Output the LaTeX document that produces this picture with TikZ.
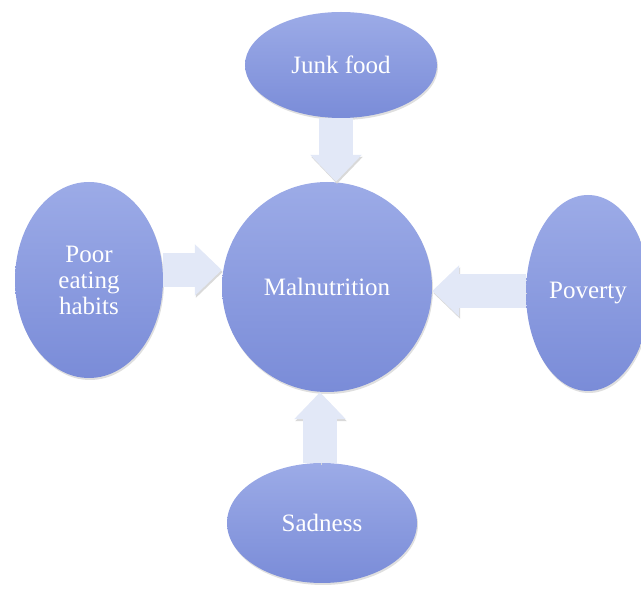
\documentclass[tikz,border=0pt]{standalone}
\usepackage{fontspec}
\setmainfont{Liberation Serif}
\usetikzlibrary{shapes.geometric,arrows.meta,shadows}

\definecolor{blobtop}{RGB}{156,171,231}
\definecolor{blobbot}{RGB}{122,140,216}
\definecolor{arrowfill}{RGB}{226,232,247}

\tikzset{
	blob/.style={ellipse, inner sep=0pt, top color=blobtop, bottom color=blobbot,
		text=white, align=center, font=\fontsize{25}{26}\selectfont,
		drop shadow={opacity=0.25, shadow xshift=1pt, shadow yshift=-2pt}},
	blockarrow/.style={draw=arrowfill, line width=34pt,
		-{Triangle[width=50pt,length=27pt]},
		preaction={draw=black!15, transform canvas={xshift=1pt,yshift=-2pt}}}
}

\begin{document}
\begin{tikzpicture}[x=1pt,y=-1pt]
	\useasboundingbox (0,0) rectangle (641,593);
	\clip (0,0) rectangle (641,593);
	
	\node [blob, minimum width=210pt, minimum height=210pt] (mal) at (327,287) {Malnutrition};
	\node [blob, minimum width=192pt, minimum height=106pt] (junk) at (341,65) {Junk food};
	\node [blob, minimum width=148pt, minimum height=196pt] (poor) at (89,280) {Poor\\eating\\habits};
	\node [blob, minimum width=124pt, minimum height=196pt] (pov) at (588,293) {Poverty};
	\node [blob, minimum width=190pt, minimum height=120pt] (sad) at (322,523) {Sadness};
	
	\coordinate (j1) at ([xshift=-5pt]junk.south);
	\coordinate (p1) at ([yshift=10pt]poor.east);
	\coordinate (v1) at ([yshift=2pt]pov.west);
	\coordinate (s1) at ([xshift=-2pt]sad.north);
	
	\draw [blockarrow] (j1) -- (j1 |- mal.north);
	\draw [blockarrow] (p1) -- (p1 -| mal.west);
	\draw [blockarrow] (v1) -- (v1 -| mal.east);
	\draw [blockarrow] (s1) -- (s1 |- mal.south);
\end{tikzpicture}
\end{document}
